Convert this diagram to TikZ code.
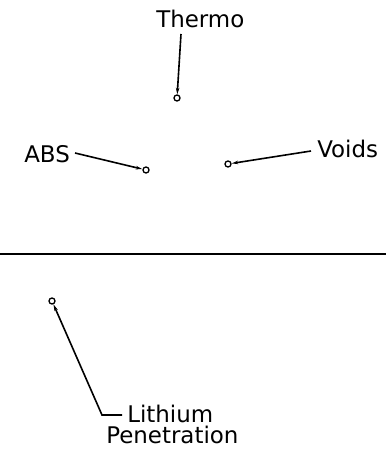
\documentclass[tikz,border=0pt]{standalone}
\usepackage{fontspec}
\setmainfont{DejaVu Sans}
\usetikzlibrary{arrows.meta}
\tikzset{lbl/.style={font=\fontsize{17.2}{20}\selectfont,inner sep=0pt,anchor=base west},
  pt/.style={circle,draw,line width=1pt,inner sep=0pt,minimum size=4.5pt},
  lead/.style={line width=1.2pt,-{Stealth[length=5pt,width=2.6pt]}}}

\begin{document}
\begin{tikzpicture}[x=0.75pt,y=-0.75pt]
\useasboundingbox (0,0) rectangle (386,452);
% sample points
\node[pt] (thermopt) at (177,98) {};
\node[pt] (abspt) at (146,170) {};
\node[pt] (voidspt) at (228,164) {};
\node[pt] (lipt) at (52,301) {};
% labels
\node[lbl] (thermo) at (156,28) {Thermo};
\node[lbl] (abs) at (24,163) {ABS};
\node[lbl] (voids) at (317,157) {Voids};
\node[lbl] (lith) at (127,422) {Lithium};
\node[lbl] (pen) at (106,443) {Penetration};
% leader tails
\coordinate (thermot) at (181,34);
\coordinate (abst) at (75,153);
\coordinate (voidst) at (311,151);
\coordinate (litht) at (122,415);
% leaders
\draw[lead] (thermot) -- (thermopt);
\draw[lead] (abst) -- (abspt);
\draw[lead] (voidst) -- (voidspt);
\draw[lead] (litht) -- (102,415) -- (lipt);
% divider
\draw[line width=1.5pt] (0,254) -- (386,254);
\end{tikzpicture}
\end{document}
